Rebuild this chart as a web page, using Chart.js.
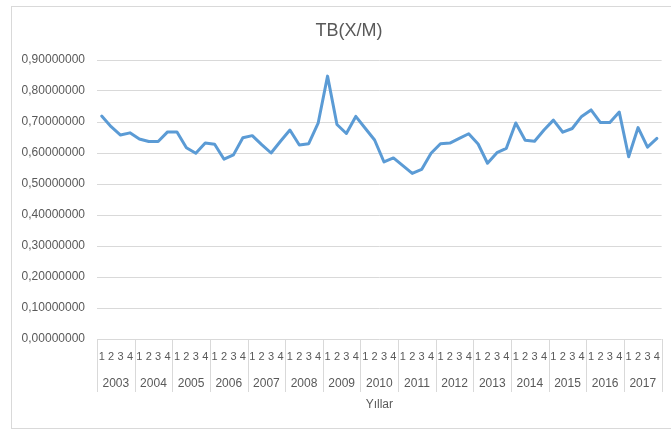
<!DOCTYPE html>
<html>
<head>
<meta charset="utf-8">
<title>TB(X/M)</title>
<script src="https://cdn.jsdelivr.net/npm/chart.js@4/dist/chart.umd.min.js"></script>
<style>
  body { margin: 0; background: #fff; }
  canvas { display: block; }
</style>
</head>
<body>
<canvas id="graficoTB" width="671" height="430"></canvas>
<script>
// ===========================
// DATOS
// ===========================
const yillar = ["2003", "2004", "2005", "2006", "2007", "2008", "2009", "2010",
                "2011", "2012", "2013", "2014", "2015", "2016", "2017"];
const ceyrekler = ["1", "2", "3", "4"];

// TB(X/M) trimestral
const valoresTB = [
  0.719, 0.685, 0.658, 0.665,   // 2003
  0.645, 0.637, 0.637, 0.668,   // 2004
  0.668, 0.617, 0.599, 0.632,   // 2005
  0.628, 0.580, 0.594, 0.649,   // 2006
  0.656, 0.627, 0.600, 0.638,   // 2007
  0.674, 0.626, 0.630, 0.696,   // 2008
  0.848, 0.692, 0.663, 0.718,   // 2009
  0.680, 0.642, 0.571, 0.584,   // 2010
  0.559, 0.534, 0.547, 0.599,   // 2011
  0.630, 0.632, 0.647, 0.662,   // 2012
  0.629, 0.567, 0.601, 0.615,   // 2013
  0.697, 0.641, 0.638, 0.674,   // 2014
  0.706, 0.667, 0.679, 0.718,   // 2015
  0.739, 0.698, 0.698, 0.732,   // 2016
  0.588, 0.682, 0.619, 0.647    // 2017
];

const titulo = "TB(X/M)";
const etiquetasTrimestre = [];
yillar.forEach(() => ceyrekler.forEach(q => etiquetasTrimestre.push(q)));

const colorTexto = "#595959";
const colorGrid = "#d9d9d9";
const fuente = "'Liberation Sans', Arial, sans-serif";

// ===========================
// PLUGIN: marco, titulo y separadores de años
// ===========================
const marcoYSeparadores = {
  id: "marcoYSeparadores",
  beforeDraw(chart) {
    const ctx = chart.ctx;
    ctx.save();
    ctx.strokeStyle = colorGrid;
    ctx.lineWidth = 1;
    ctx.strokeRect(11.5, 6.5, 700, 422);
    // titulo centrado en el marco del grafico (como Excel)
    ctx.fillStyle = colorTexto;
    ctx.font = "18px " + fuente;
    ctx.textAlign = "center";
    ctx.textBaseline = "middle";
    ctx.fillText(titulo, 349, 31);
    ctx.restore();
  },
  afterDraw(chart) {
    const ctx = chart.ctx;
    const x = chart.scales.x;
    const x2 = chart.scales.x2;
    const ancho = (chart.chartArea.right - chart.chartArea.left) / yillar.length;
    ctx.save();
    ctx.strokeStyle = colorGrid;
    ctx.lineWidth = 1;
    for (let k = 0; k <= yillar.length; k++) {
      const px = Math.round(x.left + k * ancho) + 0.5;
      ctx.beginPath();
      ctx.moveTo(px, x.top);
      ctx.lineTo(px, x2.top + 23);
      ctx.stroke();
    }
    ctx.restore();
  }
};

// ===========================
// GRAFICO
// ===========================
const ctx = document.getElementById("graficoTB").getContext("2d");
window.chartTB = new Chart(ctx, {
  type: "line",
  data: {
    labels: etiquetasTrimestre,
    datasets: [{
      label: titulo,
      data: valoresTB,
      borderColor: "#5b9bd5",
      backgroundColor: "#5b9bd5",
      borderWidth: 3,
      pointRadius: 0,
      tension: 0,
      fill: false,
      borderJoinStyle: "round",
      borderCapStyle: "round"
    }]
  },
  options: {
    responsive: false,
    animation: false,
    layout: { padding: { left: 0, right: 4, top: 60, bottom: 15 } },
    plugins: {
      legend: { display: false },
      tooltip: { enabled: false },
      title: { display: false }
    },
    scales: {
      y: {
        min: 0,
        max: 0.9,
        afterFit: s => { s.width = 97; },
        ticks: {
          stepSize: 0.1,
          color: colorTexto,
          padding: 12,
          font: { family: fuente, size: 12 },
          callback: v => Number(v).toFixed(8).replace(".", ",")
        },
        grid: { color: colorGrid, drawTicks: false },
        border: { display: false }
      },
      x: {
        offset: true,
        afterFit: s => { s.height = 30; },
        ticks: {
          autoSkip: false,
          maxRotation: 0,
          color: colorTexto,
          padding: 11,
          font: { family: fuente, size: 11 }
        },
        grid: { display: false, drawTicks: false },
        border: { display: false }
      },
      x2: {
        type: "category",
        position: "bottom",
        labels: yillar,
        offset: true,
        afterFit: s => { s.height = 46; },
        ticks: {
          autoSkip: false,
          maxRotation: 0,
          color: colorTexto,
          padding: 7,
          font: { family: fuente, size: 12 }
        },
        grid: { display: false, drawTicks: false },
        border: { display: false },
        title: {
          display: true,
          text: "Yıllar",
          color: colorTexto,
          padding: { top: 0, bottom: 3 },
          font: { family: fuente, size: 12 }
        }
      }
    }
  },
  plugins: [marcoYSeparadores]
});
</script>
</body>
</html>
